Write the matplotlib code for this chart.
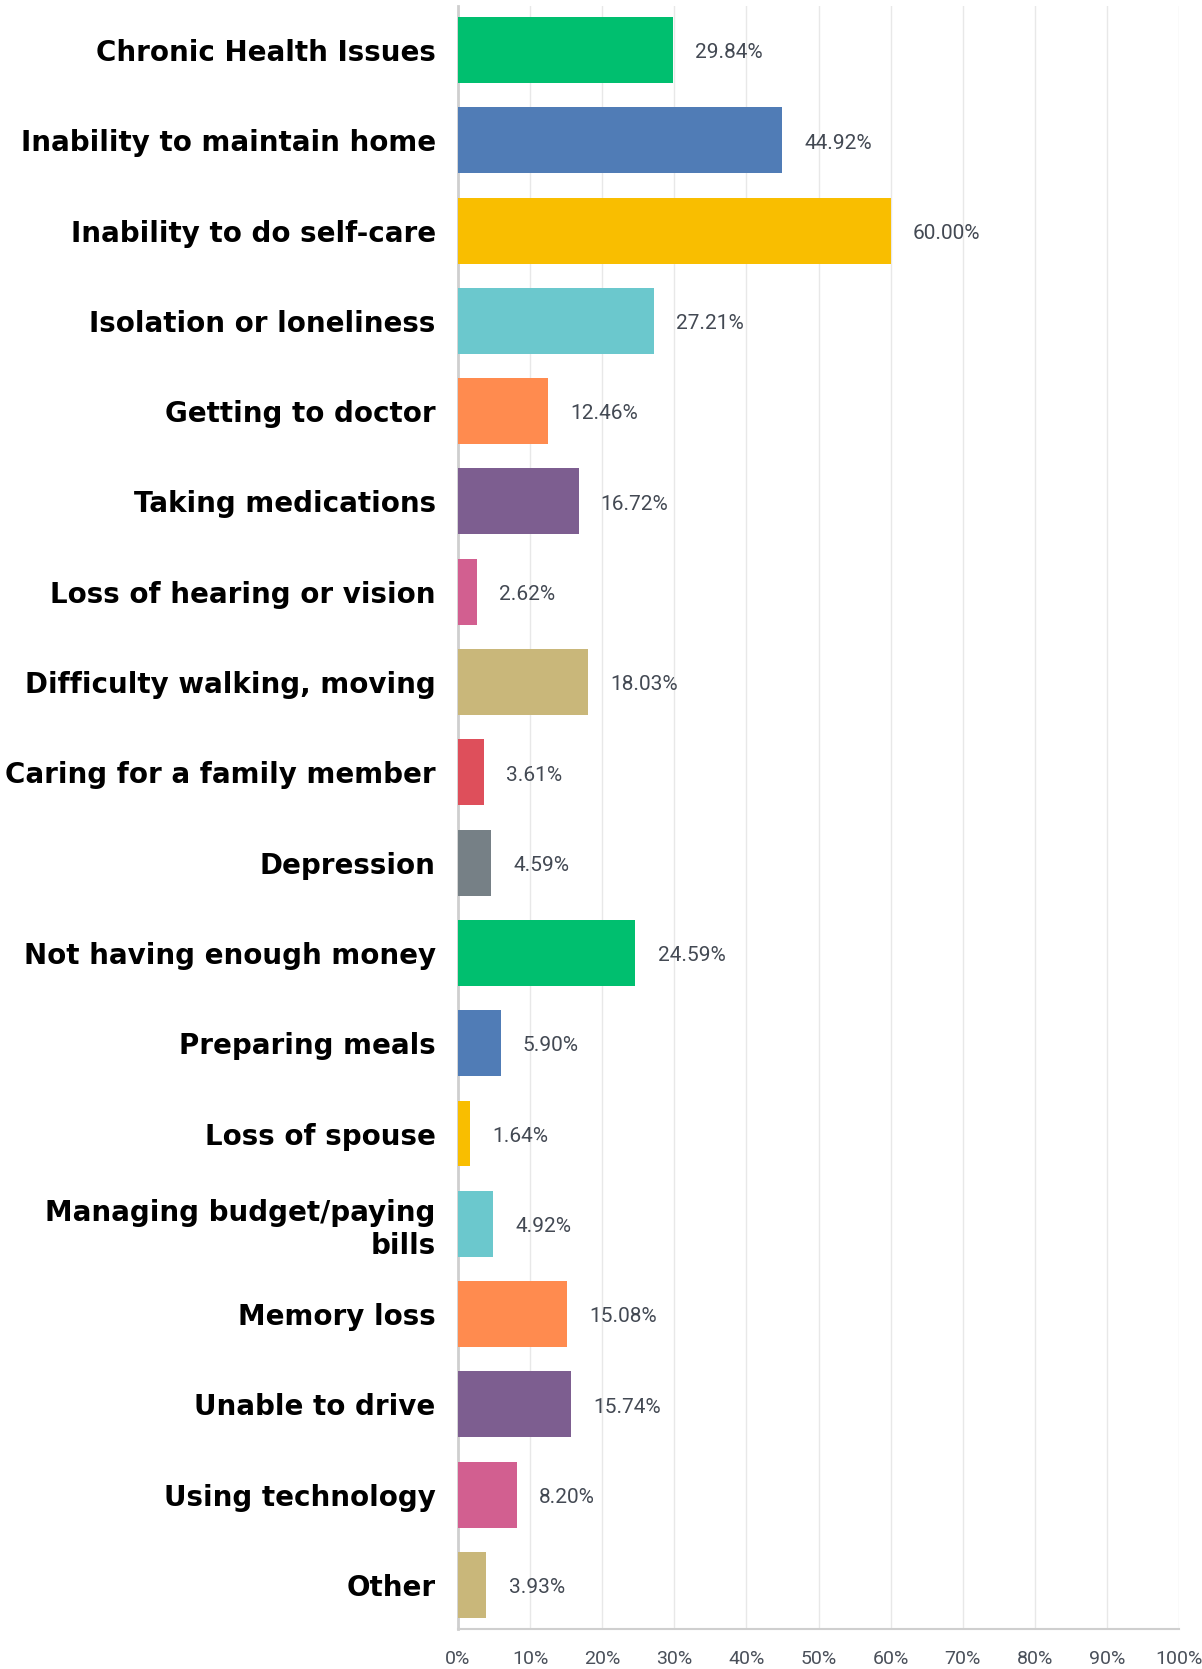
import matplotlib
matplotlib.use("Agg")
import matplotlib.pyplot as plt
import numpy as np

# survey answers, top to bottom
categories = [
    "Chronic Health Issues", "Inability to maintain home", "Inability to do self-care",
    "Isolation or loneliness", "Getting to doctor", "Taking medications",
    "Loss of hearing or vision", "Difficulty walking, moving", "Caring for a family member",
    "Depression", "Not having enough money", "Preparing meals", "Loss of spouse",
    "Managing budget/paying\nbills", "Memory loss", "Unable to drive",
    "Using technology", "Other",
]
percents = [29.84, 44.92, 60.00, 27.21, 12.46, 16.72, 2.62, 18.03, 3.61,
            4.59, 24.59, 5.90, 1.64, 4.92, 15.08, 15.74, 8.20, 3.93]
palette = ["#00BF6F", "#507CB6", "#F9BE00", "#6BC8CD", "#FF8B4F",
           "#7D5E90", "#D25F90", "#C9B77A", "#DE4F5B", "#768086"]
xticks = np.arange(0, 101, 10)

colors = [palette[i % len(palette)] for i in range(len(categories))]
ypos = np.arange(len(categories))

fig = plt.figure(figsize=(12.02, 16.69), dpi=100)
ax = fig.add_axes([0.381, 0.024, 0.6, 0.9724])

ax.barh(ypos, percents, height=0.73, color=colors, zorder=3)
ax.set_ylim(len(categories) - 0.513, -0.487)
ax.set_xlim(0, 100)

for y, v in zip(ypos, percents):
    ax.annotate(f"{v:.2f}%", xy=(v, y), xytext=(16, -2), textcoords="offset points",
                ha="left", va="center", fontsize=15, color="#434953",
                family=["Roboto"])

ax.set_yticks(ypos)
ax.set_yticklabels(categories, fontsize=20, fontweight="bold", color="black",
                   family=["DejaVu Sans"], linespacing=1.25)
ax.set_xticks(xticks)
ax.set_xticklabels([f"{t}%" for t in xticks], fontsize=14, color="#4a505a",
                   family=["Roboto"])
ax.tick_params(axis="y", length=0, pad=16)
ax.tick_params(axis="x", length=0, pad=15)

ax.grid(axis="x", color="#e8e8e8", linewidth=1, zorder=0)
for s in ["top", "right"]:
    ax.spines[s].set_visible(False)
ax.spines["left"].set_color("#cfcfcf")
ax.spines["left"].set_linewidth(2)
ax.spines["bottom"].set_color("#cfcfcf")
ax.spines["bottom"].set_linewidth(1.5)

fig.savefig("out.png", dpi=100, facecolor="white")
